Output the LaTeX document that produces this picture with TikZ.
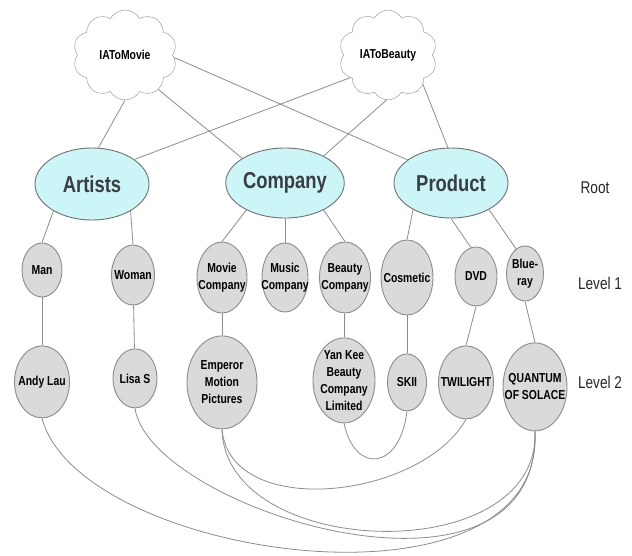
\documentclass[tikz,border=0pt]{standalone}
\usepackage{fontspec}
\newfontfamily\nsans[FakeStretch=0.8]{Liberation Sans}
\usetikzlibrary{shapes.geometric, shapes.symbols, positioning}

\definecolor{rootfill}{RGB}{204,245,248}
\definecolor{leaffill}{RGB}{218,218,218}
\definecolor{edgegray}{RGB}{140,140,140}

\begin{document}
\begin{tikzpicture}[
    x=1pt, y=-1pt,
    cloudbox/.style={cloud, draw=edgegray, fill=white, cloud puffs=10, cloud puff arc=120, inner sep=0pt, font=\nsans\bfseries\fontsize{13}{15}\selectfont},
    root/.style={ellipse, draw=edgegray!80!black, fill=rootfill, line width=0.9pt, inner sep=0pt, text=black!85!cyan, font=\nsans\bfseries\fontsize{23}{25}\selectfont},
    leaf/.style={ellipse, draw=edgegray, fill=leaffill, line width=0.9pt, inner xsep=-9pt, inner ysep=-10pt, align=center, font=\nsans\bfseries\fontsize{13}{17}\selectfont},
    levellabel/.style={text=black!85, font=\nsans\fontsize{17}{19}\selectfont},
    link/.style={draw=edgegray, line width=0.8pt}
]
\useasboundingbox (0,0) rectangle (632,556);

% ---------- clouds ----------
\node (imovie) [cloudbox, minimum width=104pt, minimum height=90pt] at (125,55) {IAToMovie};
\node (ibeauty) [cloudbox, minimum width=98pt, minimum height=84pt] at (388,55) {IAToBeauty};

% ---------- root ----------
\node (artists) [root, minimum width=114pt, minimum height=72pt] at (92,184) {Artists};
\node (company) [root, minimum width=112pt, minimum height=70pt] at (285,183) {Company};
\node (product) [root, minimum width=114pt, minimum height=70pt] at (451,183) {Product};

% ---------- level 1 ----------
\node (man) [leaf, minimum width=40pt, minimum height=54pt] at (42,270) {Man};
\node (woman) [leaf, minimum width=43pt, minimum height=60pt] at (133,275) {Woman};
\node (moviec) [leaf, minimum width=50pt, minimum height=71pt] at (222,277.5) {Movie\\Company};
\node (musicc) [leaf, minimum width=46pt, minimum height=69pt] at (285,277.5) {Music\\Company};
\node (beautyc) [leaf, minimum width=51pt, minimum height=71pt] at (345,277.5) {Beauty\\Company};
\node (cosmetic) [leaf, minimum width=52pt, minimum height=75pt] at (407,277.5) {Cosmetic};
\node (dvd) [leaf, minimum width=42pt, minimum height=59pt] at (476,276.5) {DVD};
\node (bluray) [leaf, minimum width=37pt, minimum height=55pt] at (525,273.5) {Blue-\\ray};

% ---------- level 2 ----------
\node (andy) [leaf, minimum width=55pt, minimum height=72pt, below=48pt of man] {Andy Lau};
\node (lisa) [leaf, minimum width=44pt, minimum height=59pt, below=43pt of woman, xshift=2pt] {Lisa S};
\node (emperor) [leaf, minimum width=70pt, minimum height=93pt, below=22pt of moviec] {Emperor\\Motion\\Pictures};
\node (yankee) [leaf, minimum width=62pt, minimum height=85pt, below=24pt of beautyc, xshift=-1pt] {Yan Kee\\Beauty\\Company\\Limited};
\node (skii) [leaf, minimum width=39pt, minimum height=57pt, below=38pt of cosmetic] {SKII};
\node (twilight) [leaf, minimum width=55pt, minimum height=73pt, below=39pt of dvd, xshift=-10pt] {TWILIGHT};
\node (quantum) [leaf, minimum width=64pt, minimum height=88pt, below=41pt of bluray, xshift=10pt] {QUANTUM\\OF SOLACE};

% ---------- level names ----------
\node (lroot) [levellabel] at (595,188) {Root};
\node (lone) [levellabel] at (600,283) {Level 1};
\node (ltwo) [levellabel] at (600,382) {Level 2};

% ---------- cloud links ----------
\draw [link] (imovie.south) -- (artists.80);
\draw [link] (imovie.-46) -- (company.150);
\draw [link] (imovie.-3) -- (product.152);
\draw [link] (ibeauty.211) -- (artists.30);
\draw [link] (ibeauty.-92) -- (company.35);
\draw [link] (ibeauty.-40) -- (product.95);

% ---------- root to level 1 ----------
\draw [link] (artists.215) -- (man.north);
\draw [link] (artists.-35) -- (woman.north);
\draw [link] (company.215) -- (moviec.north);
\draw [link] (company.south) -- (musicc.north);
\draw [link] (company.-35) -- (beautyc.north);
\draw [link] (product.215) -- (cosmetic.north);
\draw [link] (product.south) -- (dvd.100);
\draw [link] (product.-35) -- (bluray.110);

% ---------- level 1 to level 2 ----------
\draw [link] (man) -- (andy);
\draw [link] (woman) -- (lisa);
\draw [link] (moviec) -- (emperor);
\draw [link] (beautyc) -- (yankee);
\draw [link] (cosmetic) -- (skii);
\draw [link] (dvd.south) -- (twilight.north);
\draw [link] (bluray.south) -- (quantum.north);

% ---------- cross links ----------
\draw [link] (andy.south) .. controls (80,560) and (545,625) .. (quantum.south);
\draw [link] (lisa.south) .. controls (150,510) and (540,630) .. (quantum.south);
\draw [link] (emperor.south) .. controls (225,560) and (540,570) .. (quantum.south);
\draw [link] (emperor.south) .. controls (230,520) and (420,500) .. (twilight.south);
\draw [link] (yankee.south) .. controls (355,475) and (400,470) .. (skii.south);

\end{tikzpicture}
\end{document}
